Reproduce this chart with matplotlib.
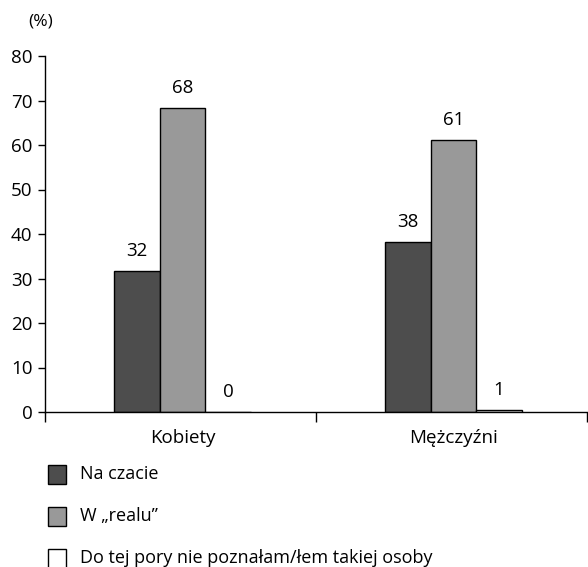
import matplotlib
matplotlib.use("Agg")
import matplotlib.pyplot as plt
from matplotlib.patches import Rectangle
import numpy as np

plt.rcParams['font.family'] = ['Open Sans', 'DejaVu Sans']

categories = ["Kobiety", "Mężczyźni"]
series_names = ["Na czacie", "W \u201erealu\u201d", "Do tej pory nie poznałam/łem takiej osoby"]
na_czacie = [31.7, 38.2]
w_realu = [68.3, 61.1]
do_tej_pory = [0.0, 0.4]
value_labels = [["32", "38"], ["68", "61"], ["0", "1"]]
colors = ["#4d4d4d", "#999999", "#ffffff"]

FS = 13.5
W, H = 588, 567
fig = plt.figure(figsize=(W/100, H/100), dpi=100)
ax = fig.add_axes([45/W, (H-412)/H, 1 - 45/W - 0.002, (412-56)/H])

x = np.arange(len(categories)) + 0.5
w = 0.168
shift = 0.008
series = [na_czacie, w_realu, do_tej_pory]
for i, (vals, c) in enumerate(zip(series, colors)):
    pos = x + shift + (i - 1) * w
    ax.bar(pos, vals, width=w, color=c, edgecolor="black", linewidth=1.0, label=series_names[i])
    for p, v, lab in zip(pos, vals, value_labels[i]):
        ax.annotate(lab, (p, v), xytext=(0, 8), textcoords="offset points",
                    ha="center", va="bottom", fontsize=FS)

ax.set_xlim(0, 2)
ax.set_ylim(0, 80)
ax.set_yticks(range(0, 81, 10))
ax.tick_params(axis="y", labelsize=FS, length=5, width=1, direction="out", pad=4)
ax.set_xticks([0, 1, 2])
ax.set_xticklabels([])
ax.set_xticks(x + shift, minor=True)
ax.set_xticklabels(categories, minor=True, fontsize=FS)
ax.tick_params(axis="x", which="major", length=7, width=1, direction="out")
ax.tick_params(axis="x", which="minor", length=0, pad=12)
for s in ["top", "right"]:
    ax.spines[s].set_visible(False)
ax.spines["left"].set_linewidth(1.0)
ax.spines["bottom"].set_linewidth(1.0)

fig.text(41/W, 1 - 22/H, "(%)", ha="center", va="center", fontsize=12.5)

# legend drawn in figure pixel coordinates
row_y = [474, 516, 558]
for name, c, yc in zip(series_names, colors, row_y):
    fig.patches.append(Rectangle((47.5/W, (H - yc - 9.5)/H), 18.5/W, 19/H,
                                 facecolor=c, edgecolor="black", linewidth=1.0,
                                 transform=fig.transFigure, figure=fig))
    fig.text(80/W, (H - yc)/H, name, ha="left", va="center", fontsize=13)

fig.savefig("out.png", dpi=100)
